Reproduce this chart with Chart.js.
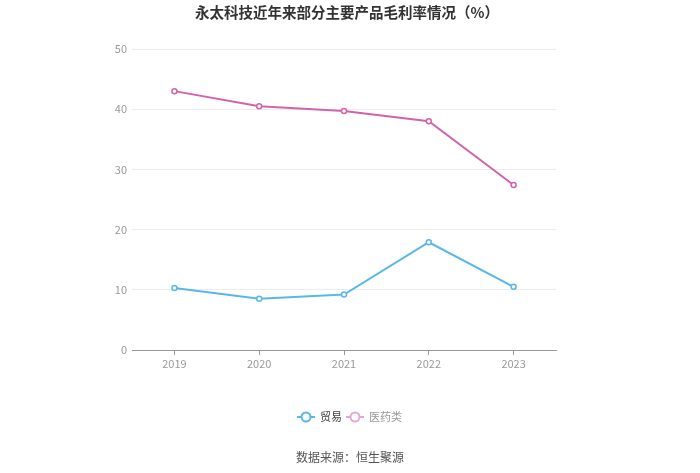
<!DOCTYPE html>
<html><head><meta charset="utf-8">
<script src="https://cdn.jsdelivr.net/npm/chart.js@4/dist/chart.umd.min.js"></script>
<style>html,body{margin:0;padding:0;background:#fff}#wrap{width:700px;height:473px;position:relative}</style>
</head><body><div id="wrap"><canvas id="c" width="700" height="473"></canvas></div>
<script>
const categories = ["2019","2020","2021","2022","2023"];
const tradeValues = [10.3, 8.5, 9.2, 17.9, 10.5];
const pharmaValues = [43.0, 40.5, 39.7, 38.0, 27.4];
const yTicks = [0,10,20,30,40,50];
const seriesNames = ["贸易","医药类"];
const titleText = "永太科技近年来部分主要产品毛利率情况（%）";
const sourceText = "数据来源：恒生聚源";

const FONT = '"Noto Sans CJK SC","Noto Sans",sans-serif';
const blue = '#58b9e8', pink = '#d462aa';

const overlay = {
  id:'overlay',
  afterDraw(chart){
    const ctx = chart.ctx;
    ctx.save();
    ctx.textAlign='center'; ctx.textBaseline='middle';
    ctx.fillStyle='#333'; ctx.font='bold 14.5px '+FONT;
    ctx.fillText(titleText, 347, 12);
    ctx.fillStyle='#555'; ctx.font='12px '+FONT;
    ctx.fillText(sourceText, 350, 457);
    const items=[{x:297,c:blue,t:'#444',name:seriesNames[0]},{x:346,c:'#e6a6d2',t:'#999',name:seriesNames[1]}];
    const y=417;
    items.forEach(it=>{
      ctx.strokeStyle=it.c; ctx.lineWidth=2;
      ctx.beginPath(); ctx.moveTo(it.x,y); ctx.lineTo(it.x+18,y); ctx.stroke();
      ctx.fillStyle='#fff'; ctx.beginPath(); ctx.arc(it.x+9,y,4.5,0,Math.PI*2); ctx.fill(); ctx.stroke();
      ctx.fillStyle=it.t; ctx.font='11px '+FONT; ctx.textAlign='left';
      ctx.fillText(it.name, it.x+23, y);
    });
    ctx.restore();
  }
};

new Chart(document.getElementById('c'), {
  type:'line',
  data:{
    labels:categories,
    datasets:[
      {label:seriesNames[0], data:tradeValues, borderColor:blue, backgroundColor:'#fff', borderWidth:2, pointRadius:2.5, pointBorderWidth:1.5, pointBackgroundColor:'#fff', pointBorderColor:blue, tension:0},
      {label:seriesNames[1], data:pharmaValues, borderColor:pink, backgroundColor:'#fff', borderWidth:2, pointRadius:2.5, pointBorderWidth:1.5, pointBackgroundColor:'#fff', pointBorderColor:pink, tension:0}
    ]
  },
  options:{
    responsive:false, animation:false, devicePixelRatio:1,
    layout:{padding:{left:80,right:144,top:49,bottom:93}},
    plugins:{legend:{display:false}, title:{display:false}, tooltip:{enabled:false}},
    scales:{
      x:{
        offset:true,
        grid:{display:true, drawOnChartArea:false, drawTicks:true, tickLength:5, color:'#999'},
        border:{display:true, color:'#999', width:1},
        ticks:{color:'#999', font:{size:11, family:FONT}, padding:2, maxRotation:0},
        afterFit(s){ s.height=30; }
      },
      y:{
        min:0, max:50,
        afterBuildTicks(s){ s.ticks = yTicks.map(v=>({value:v})); },
        grid:{color:'#ececf0', drawTicks:false},
        border:{display:false},
        ticks:{color:'#999', font:{size:11, family:FONT}, padding:5},
        afterFit(s){ s.width=52; }
      }
    }
  },
  plugins:[overlay]
});
</script></body></html>
